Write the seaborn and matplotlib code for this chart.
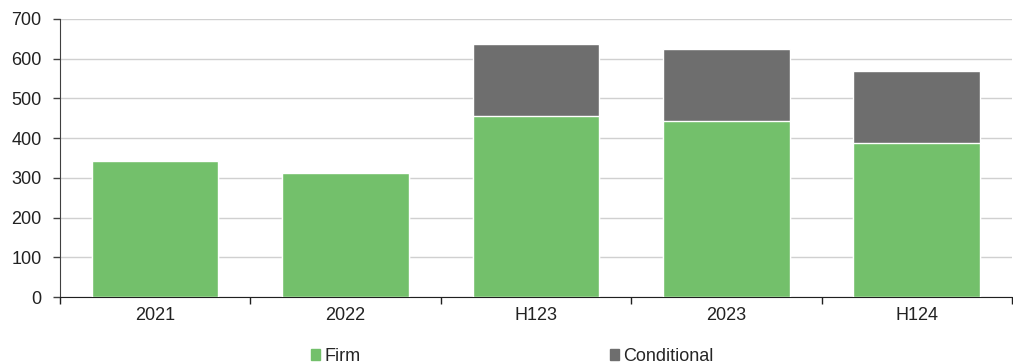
import matplotlib
matplotlib.use("Agg")
import matplotlib.pyplot as plt
import seaborn as sns
import pandas as pd
from matplotlib.patches import Patch

# data
categories = ["2021", "2022", "H123", "2023", "H124"]
firm = [342, 312, 456, 443, 388]
conditional = [0, 0, 181, 182, 181]

GREEN = "#73c06b"
GREY = "#6e6e6e"

df = pd.DataFrame({"period": categories, "firm": firm, "conditional": conditional})
df["total"] = df["firm"] + df["conditional"]

sns.set_style("white")
plt.rcParams["font.family"] = ["Liberation Sans", "DejaVu Sans"]

fig, ax = plt.subplots(figsize=(10.13, 3.64), dpi=100)
fig.subplots_adjust(left=0.059, right=0.999, bottom=0.184, top=0.948)

# stacked: total (grey) behind, firm (green) on top
sns.barplot(data=df, x="period", y="total", color=GREY, width=0.665,
            edgecolor="white", linewidth=1, saturation=1, ax=ax, zorder=2)
sns.barplot(data=df, x="period", y="firm", color=GREEN, width=0.665,
            edgecolor="white", linewidth=1, saturation=1, ax=ax, zorder=3)

ax.set_xlim(-0.5, len(categories) - 0.5)
ax.set_ylim(0, 700)
ax.set_yticks(range(0, 701, 100))
ax.yaxis.grid(True, color="#d0d0d0", linewidth=1)
ax.set_axisbelow(True)
ax.set_xlabel("")
ax.set_ylabel("")

for s in ["top", "right"]:
    ax.spines[s].set_visible(False)
ax.spines["left"].set_color("#404040")
ax.spines["bottom"].set_color("#202020")

ax.tick_params(axis="x", which="major", bottom=False, length=0, pad=7,
               labelsize=13, colors="#222222")
ax.set_xticks([i - 0.5 for i in range(len(categories) + 1)], minor=True)
ax.tick_params(axis="x", which="minor", bottom=True, length=5, width=1,
               direction="out", color="#202020")
ax.tick_params(axis="y", left=True, length=5, width=1, direction="out",
               labelsize=13, labelcolor="#222222", color="#404040", pad=8)

handles = [Patch(color=GREEN, label="Firm"), Patch(color=GREY, label="Conditional")]
ax.legend(handles=handles, loc="upper center", bbox_to_anchor=(0.475, -0.125), ncol=2,
          frameon=False, fontsize=13, handlelength=0.5, handleheight=0.5,
          handletextpad=0.25, columnspacing=13.8)

fig.savefig("out.png", dpi=100)
